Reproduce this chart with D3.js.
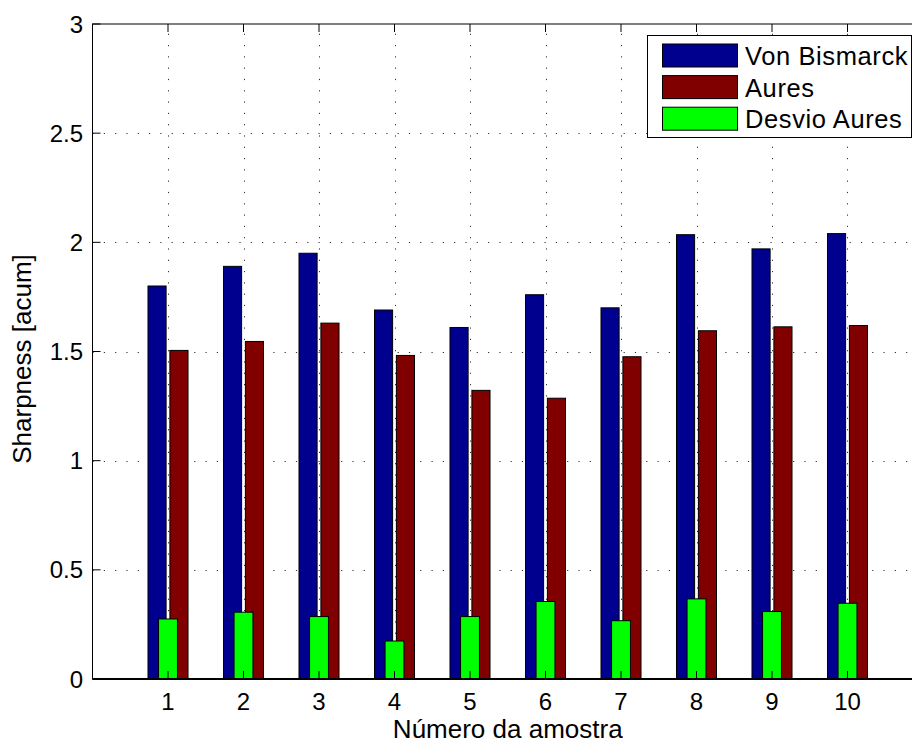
<!DOCTYPE html>
<html>
<head>
<meta charset="utf-8">
<script src="https://cdn.jsdelivr.net/npm/d3@7"></script>
<style>
  body { margin: 0; background: #fff; }
  svg text { font-family: Arial, "Liberation Sans", Helvetica, sans-serif; fill: #000; }
  .lbl { font-size: 26px; }
  .leg { font-size: 25.5px; letter-spacing: 0.6px; }
  .tick { font-size: 24px; }
</style>
</head>
<body>
<div id="viz-container"></div>
<script>
// data
let categories = [1, 2, 3, 4, 5, 6, 7, 8, 9, 10];
let vonBismarck = [1.80, 1.89, 1.95, 1.69, 1.61, 1.76, 1.70, 2.035, 1.97, 2.04];
let aures = [1.505, 1.546, 1.63, 1.482, 1.322, 1.286, 1.476, 1.595, 1.613, 1.619];
let desvioAures = [0.275, 0.306, 0.286, 0.174, 0.286, 0.355, 0.267, 0.367, 0.309, 0.347];
let yTicks = [0, 0.5, 1, 1.5, 2, 2.5, 3];
let seriesNames = ["Von Bismarck", "Aures", "Desvio Aures"];
let seriesColors = ["#00008f", "#800000", "#00ff00"];

let viz = d3.select("#viz-container")
  .append("svg")
    .attr("width", 912)
    .attr("height", 743)
;

let x = d3.scaleLinear().domain([0, 11]).range([92.5, 923]);
let y = d3.scaleLinear().domain([0, 3]).range([679, 24]);

let axL = x(0), axR = x(11), axT = y(3), axB = y(0);

// grid
let grid = viz.append("g")
    .attr("stroke", "#333")
    .attr("stroke-width", 1)
    .attr("stroke-dasharray", "1.2,10.1");

grid.selectAll(".gy").data(yTicks.slice(1, -1)).enter()
  .append("line")
    .attr("x1", axL).attr("x2", axR)
    .attr("y1", d => Math.round(y(d)) + 0.5)
    .attr("y2", d => Math.round(y(d)) + 0.5);

grid.selectAll(".gx").data(categories).enter()
  .append("line")
    .attr("x1", d => Math.round(x(d)) + 0.5)
    .attr("x2", d => Math.round(x(d)) + 0.5)
    .attr("y1", axB).attr("y2", axT);

// bars
let off = 0.145, bw = 0.24, gw = 0.25;

function drawBars(values, shift, width, color){
  viz.append("g").selectAll("rect").data(values).enter()
    .append("rect")
      .attr("x", (d, i) => x(categories[i] + shift - width / 2))
      .attr("width", x(width) - x(0))
      .attr("y", d => y(d))
      .attr("height", d => y(0) - y(d))
      .attr("fill", color)
      .attr("stroke", "#000")
      .attr("stroke-width", 1)
  ;
}

drawBars(vonBismarck, -off, bw, seriesColors[0]);
drawBars(aures, off, bw, seriesColors[1]);
drawBars(desvioAures, 0, gw, seriesColors[2]);

// axes box
let axes = viz.append("g").attr("stroke", "#000").attr("fill", "none");
axes.append("rect")
    .attr("x", axL).attr("y", axT)
    .attr("width", axR - axL).attr("height", axB - axT)
    .attr("stroke-width", 1);
axes.append("line")
    .attr("x1", axL).attr("x2", axR)
    .attr("y1", axB).attr("y2", axB)
    .attr("stroke-width", 2);

// inward ticks
let tl = 8;
axes.selectAll(".ty").data(yTicks).enter()
  .append("line")
    .attr("x1", axL).attr("x2", axL + tl)
    .attr("y1", d => y(d)).attr("y2", d => y(d));
axes.selectAll(".txb").data(categories).enter()
  .append("line")
    .attr("x1", d => x(d)).attr("x2", d => x(d))
    .attr("y1", axB).attr("y2", axB - tl);
axes.selectAll(".txt").data(categories).enter()
  .append("line")
    .attr("x1", d => x(d)).attr("x2", d => x(d))
    .attr("y1", axT).attr("y2", axT + tl);

// tick labels
viz.append("g").selectAll("text").data(yTicks).enter()
  .append("text")
    .attr("class", "tick")
    .attr("x", 83)
    .attr("y", d => y(d) + 8.5)
    .attr("text-anchor", "end")
    .text(d => d);

viz.append("g").selectAll("text").data(categories).enter()
  .append("text")
    .attr("class", "tick")
    .attr("x", d => x(d))
    .attr("y", 710)
    .attr("text-anchor", "middle")
    .text(d => d);

// axis labels
viz.append("text")
    .attr("class", "lbl")
    .attr("x", (axL + axR) / 2)
    .attr("y", 738)
    .attr("text-anchor", "middle")
    .text("Número da amostra");

viz.append("text")
    .attr("class", "lbl")
    .attr("transform", "translate(31, 359) rotate(-90)")
    .attr("text-anchor", "middle")
    .text("Sharpness [acum]");

// legend
let legend = viz.append("g");
legend.append("rect")
    .attr("x", 647.5).attr("y", 35.5)
    .attr("width", 264).attr("height", 102)
    .attr("fill", "#fff").attr("stroke", "#000").attr("stroke-width", 1);

let rows = legend.selectAll(".row").data(seriesNames).enter()
  .append("g")
    .attr("transform", (d, i) => "translate(0," + (i * 31.6) + ")");
rows.append("rect")
    .attr("x", 662.5).attr("y", 44)
    .attr("width", 75).attr("height", 23)
    .attr("fill", (d, i) => seriesColors[i])
    .attr("stroke", "#000").attr("stroke-width", 1);
rows.append("text")
    .attr("class", "leg")
    .attr("x", 745)
    .attr("y", 65)
    .text(d => d);
</script>
</body>
</html>
